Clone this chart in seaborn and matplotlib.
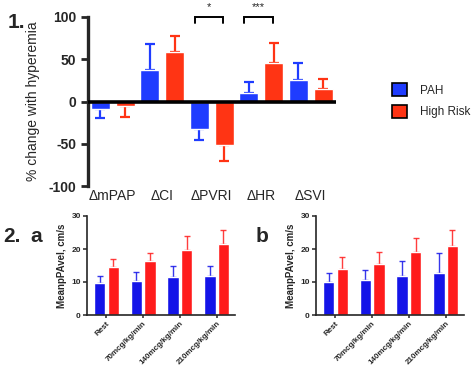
import matplotlib
matplotlib.use("Agg")
import matplotlib.pyplot as plt
from matplotlib.patches import Patch
import numpy as np
import pandas as pd
import seaborn as sns

# ── data ────────────────────────────────────────────────────────────────
GROUPS = ["PAH", "High Risk"]

TOP_CATS = ["ΔmPAP", "ΔCI", "ΔPVRI", "ΔHR", "ΔSVI"]
TOP_PAH = [-9, 37, -33, 10, 26]
TOP_PAH_ERR = [11, 31, 12, 13, 19]
TOP_HR = [-5, 58, -52, 45, 15]
TOP_HR_ERR = [13, 19, 19, 24, 12]
SIG = {"ΔPVRI": "*", "ΔHR": "***"}

DOSES = ["Rest", "70mcg/kg/min", "140mcg/kg/min", "210mcg/kg/min"]
A_PAH = [9.8, 10.2, 11.6, 11.9]
A_PAH_ERR = [2.1, 2.9, 3.1, 3.0]
A_HR = [14.6, 16.4, 19.8, 21.5]
A_HR_ERR = [2.5, 2.3, 4.1, 4.2]
B_PAH = [10.0, 10.6, 11.8, 12.6]
B_PAH_ERR = [2.8, 3.0, 4.7, 6.2]
B_HR = [13.9, 15.5, 19.0, 21.0]
B_HR_ERR = [3.6, 3.6, 4.3, 4.7]

TOP_COLORS = {"PAH": "#1f3cff", "High Risk": "#ff3414"}
BOT_COLORS = {"PAH": "#1414e8", "High Risk": "#ff1c1c"}

sns.set_theme(style="ticks")
plt.rcParams["font.family"] = ["Liberation Sans", "DejaVu Sans"]
plt.rcParams["axes.unicode_minus"] = False

W, H = 472, 366
fig = plt.figure(figsize=(W / 100, H / 100), dpi=100)


def px_axes(x0, y0, x1, y1):
    """Axes from pixel box (top-left origin)."""
    return fig.add_axes([x0 / W, 1 - y1 / H, (x1 - x0) / W, (y1 - y0) / H])


def long_df(cats, pah, hr):
    return pd.DataFrame({
        "cat": cats * 2,
        "val": pah + hr,
        "grp": ["PAH"] * len(cats) + ["High Risk"] * len(cats),
    })


def add_errors(ax, errs, colors, lw, cap, alpha=1.0):
    for cont, grp in zip(ax.containers, GROUPS):
        for patch, e in zip(cont.patches, errs[grp]):
            x = patch.get_x() + patch.get_width() / 2
            h = patch.get_height()
            yerr = [[e], [0]] if h < 0 else [[0], [e]]
            ax.errorbar(x, h, yerr=yerr, color=colors[grp], lw=lw,
                        capsize=cap, capthick=lw, alpha=alpha, zorder=1)


# ── panel 1 ─────────────────────────────────────────────────────────────
ax = px_axes(88, 17, 335.5, 186)
df = long_df(TOP_CATS, TOP_PAH, TOP_HR)
sns.barplot(data=df, x="cat", y="val", hue="grp", hue_order=GROUPS,
            palette=TOP_COLORS, width=1.0, gap=0.24, errorbar=None,
            legend=False, saturation=1, ax=ax, zorder=2)
add_errors(ax, {"PAH": TOP_PAH_ERR, "High Risk": TOP_HR_ERR},
           TOP_COLORS, 1.6, 3.6)
ax.axhline(0, color="black", lw=2.6, zorder=3)
ax.set_xlim(-0.5, 4.5)
ax.set_ylim(-100, 100)
ax.set_yticks([-100, -50, 0, 50, 100])
ax.set_xlabel("")
ax.set_ylabel("% change with hyperemia", fontsize=10, labelpad=6)
ax.tick_params(axis="y", width=2, length=5, labelsize=10)
for t in ax.get_yticklabels():
    t.set_fontweight("bold")
ax.tick_params(axis="x", length=0, labelsize=10, pad=2)
sns.despine(ax=ax, bottom=True)
ax.spines["left"].set_linewidth(2.4)

for cat, star in SIG.items():
    g = TOP_CATS.index(cat)
    xa, xb = g - 0.34, g + 0.23
    ax.plot([xa, xa, xb, xb], [93, 100, 100, 93], color="black", lw=1.4,
            clip_on=False, solid_joinstyle="miter")
    ax.text((xa + xb) / 2, 106, star, ha="center", va="bottom", fontsize=8)

fig.text(8 / W, 1 - 23 / H, "1.", fontsize=15, fontweight="bold", va="center")

handles = [Patch(facecolor=TOP_COLORS[g], edgecolor="black", lw=1.2) for g in GROUPS]
fig.legend(handles, GROUPS, loc="upper left",
           bbox_to_anchor=(392 / W, 1 - 83 / H), frameon=False,
           fontsize=8.5, handlelength=1.27, handleheight=1.35,
           handletextpad=1.1, labelspacing=0.7, borderpad=0, borderaxespad=0)

# ── panel 2a / 2b ───────────────────────────────────────────────────────
def bottom_panel(x0, pah, pah_err, hr, hr_err):
    ax = px_axes(x0, 216, x0 + 148, 315)
    df = long_df(DOSES, pah, hr)
    sns.barplot(data=df, x="cat", y="val", hue="grp", hue_order=GROUPS,
                palette=BOT_COLORS, width=0.74, gap=0.16, errorbar=None,
                legend=False, saturation=1, ax=ax, zorder=2)
    add_errors(ax, {"PAH": pah_err, "High Risk": hr_err}, BOT_COLORS,
               1.0, 2.2, alpha=0.85)
    ax.set_xlim(-0.53, 3.5)
    ax.set_ylim(0, 30)
    ax.set_yticks([0, 10, 20, 30])
    ax.set_xlabel("")
    ax.set_ylabel("MeanpPAvel, cm/s", fontsize=7, fontweight="bold", labelpad=3)
    ax.tick_params(axis="y", width=1.1, length=3, labelsize=6, pad=1.5)
    ax.tick_params(axis="x", width=1.1, length=2.5, labelsize=5.8, pad=1)
    plt.setp(ax.get_xticklabels(), rotation=45, ha="right",
             rotation_mode="anchor", fontweight="bold")
    plt.setp(ax.get_yticklabels(), fontweight="bold")
    sns.despine(ax=ax)
    for s in ("left", "bottom"):
        ax.spines[s].set_linewidth(1.2)
    return ax


bottom_panel(87, A_PAH, A_PAH_ERR, A_HR, A_HR_ERR)
bottom_panel(316, B_PAH, B_PAH_ERR, B_HR, B_HR_ERR)

fig.text(3 / W, 1 - 236 / H, "2.", fontsize=15, fontweight="bold", va="center")
fig.text(30 / W, 1 - 236 / H, "a", fontsize=15, fontweight="bold", va="center")
fig.text(256 / W, 1 - 236 / H, "b", fontsize=15, fontweight="bold", va="center")

fig.savefig("out.png", dpi=100)
